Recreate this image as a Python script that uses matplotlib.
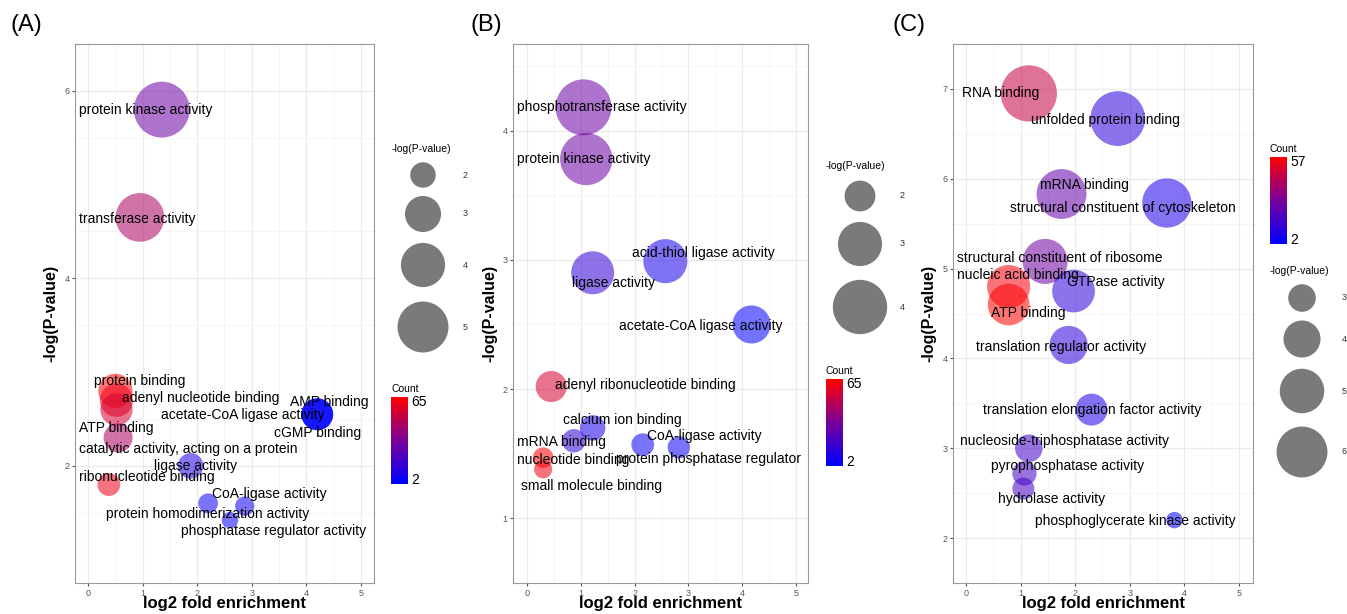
import matplotlib.pyplot as plt
import numpy as np
from matplotlib.colors import LinearSegmentedColormap

plt.rcParams['font.family'] = ['Liberation Sans', 'DejaVu Sans']

# ---- panel A ----
a_terms = ['protein kinase activity', 'transferase activity', 'protein binding',
           'adenyl nucleotide binding', 'ATP binding', 'catalytic activity, acting on a protein',
           'ribonucleotide binding', 'AMP binding', 'acetate-CoA ligase activity', 'cGMP binding',
           'ligase activity', 'CoA-ligase activity', 'protein homodimerization activity',
           'phosphatase regulator activity']
a_x = [1.35, 0.95, 0.5, 0.52, 0.52, 0.55, 0.38, 4.2, 4.2, 4.2, 1.88, 2.2, 2.87, 2.6]
a_y = [5.8, 4.65, 2.8, 2.7, 2.6, 2.3, 1.8, 2.55, 2.55, 2.55, 2.0, 1.6, 1.57, 1.42]
a_count = [30, 45, 65, 60, 55, 45, 60, 2, 2, 2, 10, 6, 6, 4]
a_lx = [-0.17, -0.17, 0.11, 0.63, -0.17, -0.17, -0.17, 3.7, 1.33, 3.4, 1.21, 2.27, 0.32, 1.71]
a_ly = [5.8, 4.63, 2.91, 2.72, 2.40, 2.18, 1.88, 2.68, 2.54, 2.35, 2.0, 1.70, 1.49, 1.30]

# ---- panel B ----
b_terms = ['phosphotransferase activity', 'protein kinase activity', 'acid-thiol ligase activity',
           'ligase activity', 'acetate-CoA ligase activity', 'adenyl ribonucleotide binding',
           'calcium ion binding', 'mRNA binding', 'CoA-ligase activity',
           'protein phosphatase regulator', 'nucleotide binding', 'small molecule binding']
b_x = [1.05, 1.1, 2.57, 1.22, 4.17, 0.45, 1.22, 0.87, 2.15, 2.82, 0.3, 0.3]
b_y = [4.18, 3.78, 2.99, 2.9, 2.5, 2.02, 1.7, 1.6, 1.57, 1.55, 1.47, 1.38]
b_count = [30, 30, 8, 15, 2, 55, 8, 15, 5, 5, 65, 62]
b_lx = [-0.18, -0.18, 1.95, 0.84, 1.71, 0.52, 0.66, -0.18, 2.23, 1.65, -0.18, -0.11]
b_ly = [4.18, 3.78, 3.05, 2.82, 2.49, 2.03, 1.76, 1.59, 1.64, 1.46, 1.45, 1.25]

# ---- panel C ----
c_terms = ['RNA binding', 'unfolded protein binding', 'mRNA binding',
           'structural constituent of cytoskeleton', 'structural constituent of ribosome',
           'nucleic acid binding', 'ATP binding', 'GTPase activity',
           'translation regulator activity', 'translation elongation factor activity',
           'nucleoside-triphosphatase activity', 'pyrophosphatase activity',
           'hydrolase activity', 'phosphoglycerate kinase activity']
c_x = [1.15, 2.78, 1.75, 3.68, 1.45, 0.78, 0.78, 1.97, 1.88, 2.3, 1.15, 1.07, 1.05, 3.82]
c_y = [6.95, 6.67, 5.83, 5.73, 5.08, 4.8, 4.6, 4.75, 4.15, 3.43, 3.0, 2.72, 2.55, 2.2]
c_count = [45, 12, 25, 8, 27, 55, 57, 12, 12, 8, 17, 17, 18, 2]
c_lx = [-0.07, 1.19, 1.36, 0.81, -0.16, -0.16, 0.46, 1.85, 0.18, 0.31, -0.11, 0.46, 0.59, 1.26]
c_ly = [6.95, 6.65, 5.93, 5.67, 5.12, 4.93, 4.51, 4.85, 4.13, 3.43, 3.08, 2.80, 2.44, 2.19]

a_size_leg = [2, 3, 4, 5]
b_size_leg = [2, 3, 4]
c_size_leg = [3, 4, 5, 6]

cmap = LinearSegmentedColormap.from_list('br', ['#0000FF', '#7A009A', '#FF0000'])

W, H = 1347, 614
TOP, BOT = 44, 583
fig = plt.figure(figsize=(W / 100, H / 100), dpi=100)


def px_s(d):
    # diameter in pixels -> scatter size (pt^2)
    return (np.asarray(d) * 0.72) ** 2


panels = [
    dict(tag='(A)', tagx=10, left=75, right=374, xlim=(-0.24, 5.24), ylim=(0.75, 6.46),
         yt=[2, 4, 6], terms=a_terms, x=a_x, y=a_y, cnt=a_count, lx=a_lx, ly=a_ly,
         cmax=65, a0=650, k=650, sleg=a_size_leg,
         sleg_title=(392, 149), sleg_x=423, sleg_y=[175, 214, 265, 327],
         cb=(391, 397, 17, 87)),
    dict(tag='(B)', tagx=470, left=513, right=808, xlim=(-0.26, 5.22), ylim=(0.82, 4.67),
         yt=[1, 2, 3, 4], terms=b_terms, x=b_x, y=b_y, cnt=b_count, lx=b_lx, ly=b_ly,
         cmax=65, a0=950, k=1000, sleg=b_size_leg,
         sleg_title=(826, 166), sleg_x=860, sleg_y=[196, 244, 307],
         cb=(826, 379, 17, 87)),
    dict(tag='(C)', tagx=893, left=953, right=1253, xlim=(-0.24, 5.26), ylim=(1.76, 7.24),
         yt=[2, 3, 4, 5, 6, 7], terms=c_terms, x=c_x, y=c_y, cnt=c_count, lx=c_lx, ly=c_ly,
         cmax=57, a0=760, k=610, sleg=c_size_leg,
         sleg_title=(1270, 271), sleg_x=1302, sleg_y=[298, 339, 391, 452],
         cb=(1270, 157, 17, 87)),
]

overlay = fig.add_axes([0, 0, 1, 1], zorder=5)
overlay.set_xlim(0, W)
overlay.set_ylim(H, 0)
overlay.axis('off')
overlay.patch.set_alpha(0)

for p in panels:
    ax = fig.add_axes([p['left'] / W, (H - BOT) / H, (p['right'] - p['left']) / W, (BOT - TOP) / H])
    ax.set_xlim(*p['xlim'])
    ax.set_ylim(*p['ylim'])
    ax.set_xticks(range(6))
    ax.set_yticks(p['yt'])
    ax.set_xticks(np.arange(0.5, 5.5, 1), minor=True)
    ax.set_yticks(np.arange(p['yt'][0] - 0.5, p['yt'][-1] + 1, 1), minor=True)
    ax.grid(True, which='major', color='#ebebeb', lw=0.9)
    ax.grid(True, which='minor', color='#f4f4f4', lw=0.6)
    ax.set_axisbelow(True)
    ax.tick_params(which='minor', length=0)
    ax.tick_params(which='major', labelsize=6.5, colors='#555555', length=2.5, pad=1.5)
    for s in ax.spines.values():
        s.set_color('#999999')
    y = np.array(p['y'])
    d = np.sqrt(p['a0'] + p['k'] * (y - p['sleg'][0]))
    ax.scatter(p['x'], y, s=px_s(d), c=p['cnt'], cmap=cmap, vmin=2, vmax=p['cmax'],
               alpha=0.55, edgecolors='none')
    for t, tx, ty in zip(p['terms'], p['lx'], p['ly']):
        ax.text(tx, ty, t, fontsize=10, ha='left', va='center', color='black')
    ax.set_xlabel('log2 fold enrichment', fontsize=12, fontweight='bold', labelpad=-1)
    ax.set_ylabel('-log(P-value)', fontsize=11.5, fontweight='bold', labelpad=4)

    fig.text(p['tagx'] / W, 1 - 25 / H, p['tag'], fontsize=17, va='center')

    # size legend
    tx, ty = p['sleg_title']
    overlay.text(tx, ty, '-log(P-value)', fontsize=7.5, va='center')
    sv = np.array(p['sleg'])
    sd = np.sqrt(p['a0'] + p['k'] * (sv - sv[0]))
    overlay.scatter([p['sleg_x']] * len(sv), p['sleg_y'], s=px_s(sd), color='#333333',
                    alpha=0.65, edgecolors='none')
    for v, yy in zip(sv, p['sleg_y']):
        overlay.text(p['sleg_x'] + 40, yy, str(v), fontsize=6.5, va='center', color='#333333')

    # colorbar
    cx, cy, cw, ch = p['cb']
    cax = fig.add_axes([cx / W, 1 - (cy + ch) / H, cw / W, ch / H])
    grad = np.linspace(1, 0, 100).reshape(-1, 1)
    cax.imshow(grad, aspect='auto', cmap=cmap, extent=(0, 1, 0, 1))
    cax.set_xticks([])
    cax.set_yticks([])
    for s in cax.spines.values():
        s.set_visible(False)
    overlay.text(cx, cy - 8, 'Count', fontsize=7.5, va='center')
    overlay.text(cx + cw + 3, cy + 5, str(p['cmax']), fontsize=10, va='center')
    overlay.text(cx + cw + 3, cy + ch - 4, '2', fontsize=10, va='center')

fig.savefig('out.png', dpi=100)
